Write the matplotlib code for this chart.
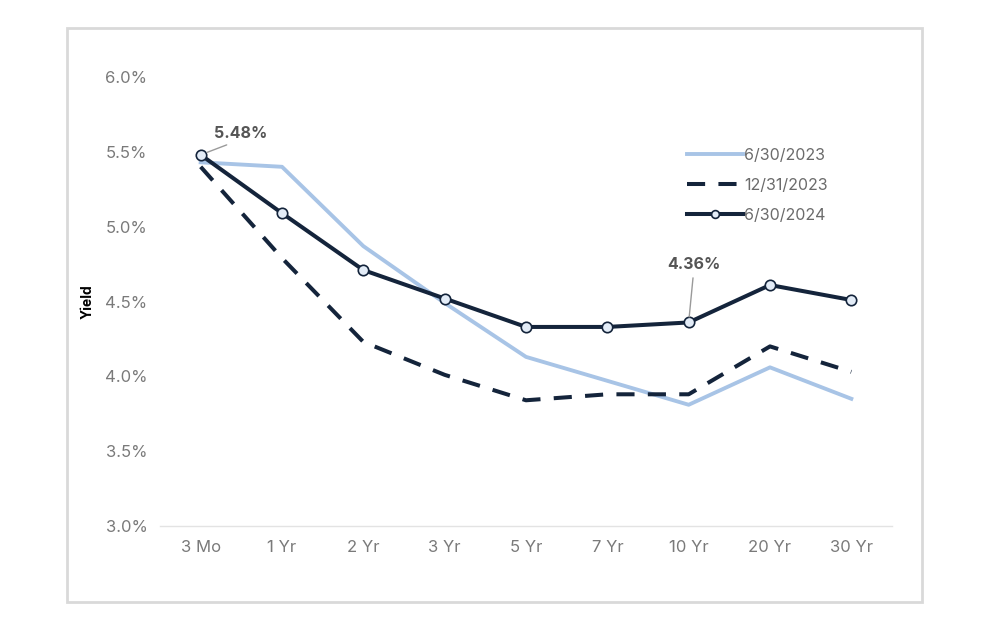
import matplotlib.pyplot as plt
from matplotlib.patches import Rectangle
from matplotlib.ticker import FuncFormatter

# ------------------ datos ------------------
tenors = ["3 Mo", "1 Yr", "2 Yr", "3 Yr", "5 Yr", "7 Yr", "10 Yr", "20 Yr", "30 Yr"]
y_2023_jun = [5.43, 5.40, 4.87, 4.49, 4.13, 3.97, 3.81, 4.06, 3.85]
y_2023_dec = [5.40, 4.79, 4.23, 4.01, 3.84, 3.88, 3.88, 4.20, 4.03]
y_2024_jun = [5.48, 5.09, 4.71, 4.52, 4.33, 4.33, 4.36, 4.61, 4.51]
labels = ["6/30/2023", "12/31/2023", "6/30/2024"]

LIGHT = "#a8c4e6"
NAVY = "#14243b"
GRAY = "#7a7a7a"

plt.rcParams['font.family'] = ['Inter', 'DejaVu Sans']

fig = plt.figure(figsize=(9.9, 6.3), dpi=100)
fig.patches.append(Rectangle((67 / 990, 1 - 602 / 630), 855 / 990, 574 / 630,
                             transform=fig.transFigure, fill=False,
                             edgecolor="#d9d9d9", linewidth=2))

ax = fig.add_axes([160 / 990, 1 - 526 / 630, 732 / 990, 449 / 630])
x = list(range(len(tenors)))

ax.plot(x, y_2023_jun, color=LIGHT, lw=2.8, label=labels[0])
ax.plot(x, y_2023_dec, color=NAVY, lw=2.9, dashes=(4.5, 3.3), label=labels[1])
ax.plot(x, y_2024_jun, color=NAVY, lw=2.9, marker='o', ms=7.5,
        mfc="#e3ecf7", mec=NAVY, mew=1.2, label=labels[2])

ax.set_xlim(-0.5, 8.5)
ax.set_ylim(3.0, 6.0)
ax.set_yticks([3.0, 3.5, 4.0, 4.5, 5.0, 5.5, 6.0])
ax.yaxis.set_major_formatter(FuncFormatter(lambda v, p: f"{v:.1f}%"))
ax.set_xticks(x)
ax.set_xticklabels(tenors)
ax.tick_params(axis='both', length=0, colors=GRAY, labelsize=12)
ax.tick_params(axis='y', pad=9)
ax.tick_params(axis='x', pad=10)
for s in ["top", "right", "left"]:
    ax.spines[s].set_visible(False)
ax.spines["bottom"].set_color("#e3e3e3")
ax.spines["bottom"].set_linewidth(1)

ax.set_ylabel("Yield", fontsize=10, fontweight='bold', color="black")
ax.yaxis.set_label_coords(-0.089, 0.5)

# anotaciones (línea guía desde el borde inferior del texto)
ax.annotate(f"{y_2024_jun[0]:.2f}%", xy=(x[0], y_2024_jun[0]), xytext=(x[0] + 0.49, 5.625),
            ha='center', va='center', fontsize=11.5, fontweight='bold', color="#555555",
            arrowprops=dict(arrowstyle='-', color="#9a9a9a", lw=1, relpos=(0.45, 0),
                            shrinkA=3, shrinkB=5))
ax.annotate(f"{y_2024_jun[6]:.2f}%", xy=(x[6], y_2024_jun[6]), xytext=(x[6] + 0.06, 4.745),
            ha='center', va='center', fontsize=11.5, fontweight='bold', color="#555555",
            arrowprops=dict(arrowstyle='-', color="#9a9a9a", lw=1, relpos=(0.5, 0),
                            shrinkA=2, shrinkB=4))

leg = ax.legend(loc='upper left', bbox_to_anchor=(0.70, 0.875), frameon=False,
                fontsize=11.5, handlelength=3.5, handletextpad=0.1, labelspacing=0.95,
                markerscale=0.75)
for t in leg.get_texts():
    t.set_color("#6b6b6b")

fig.savefig("out.png", dpi=100, facecolor="white")
